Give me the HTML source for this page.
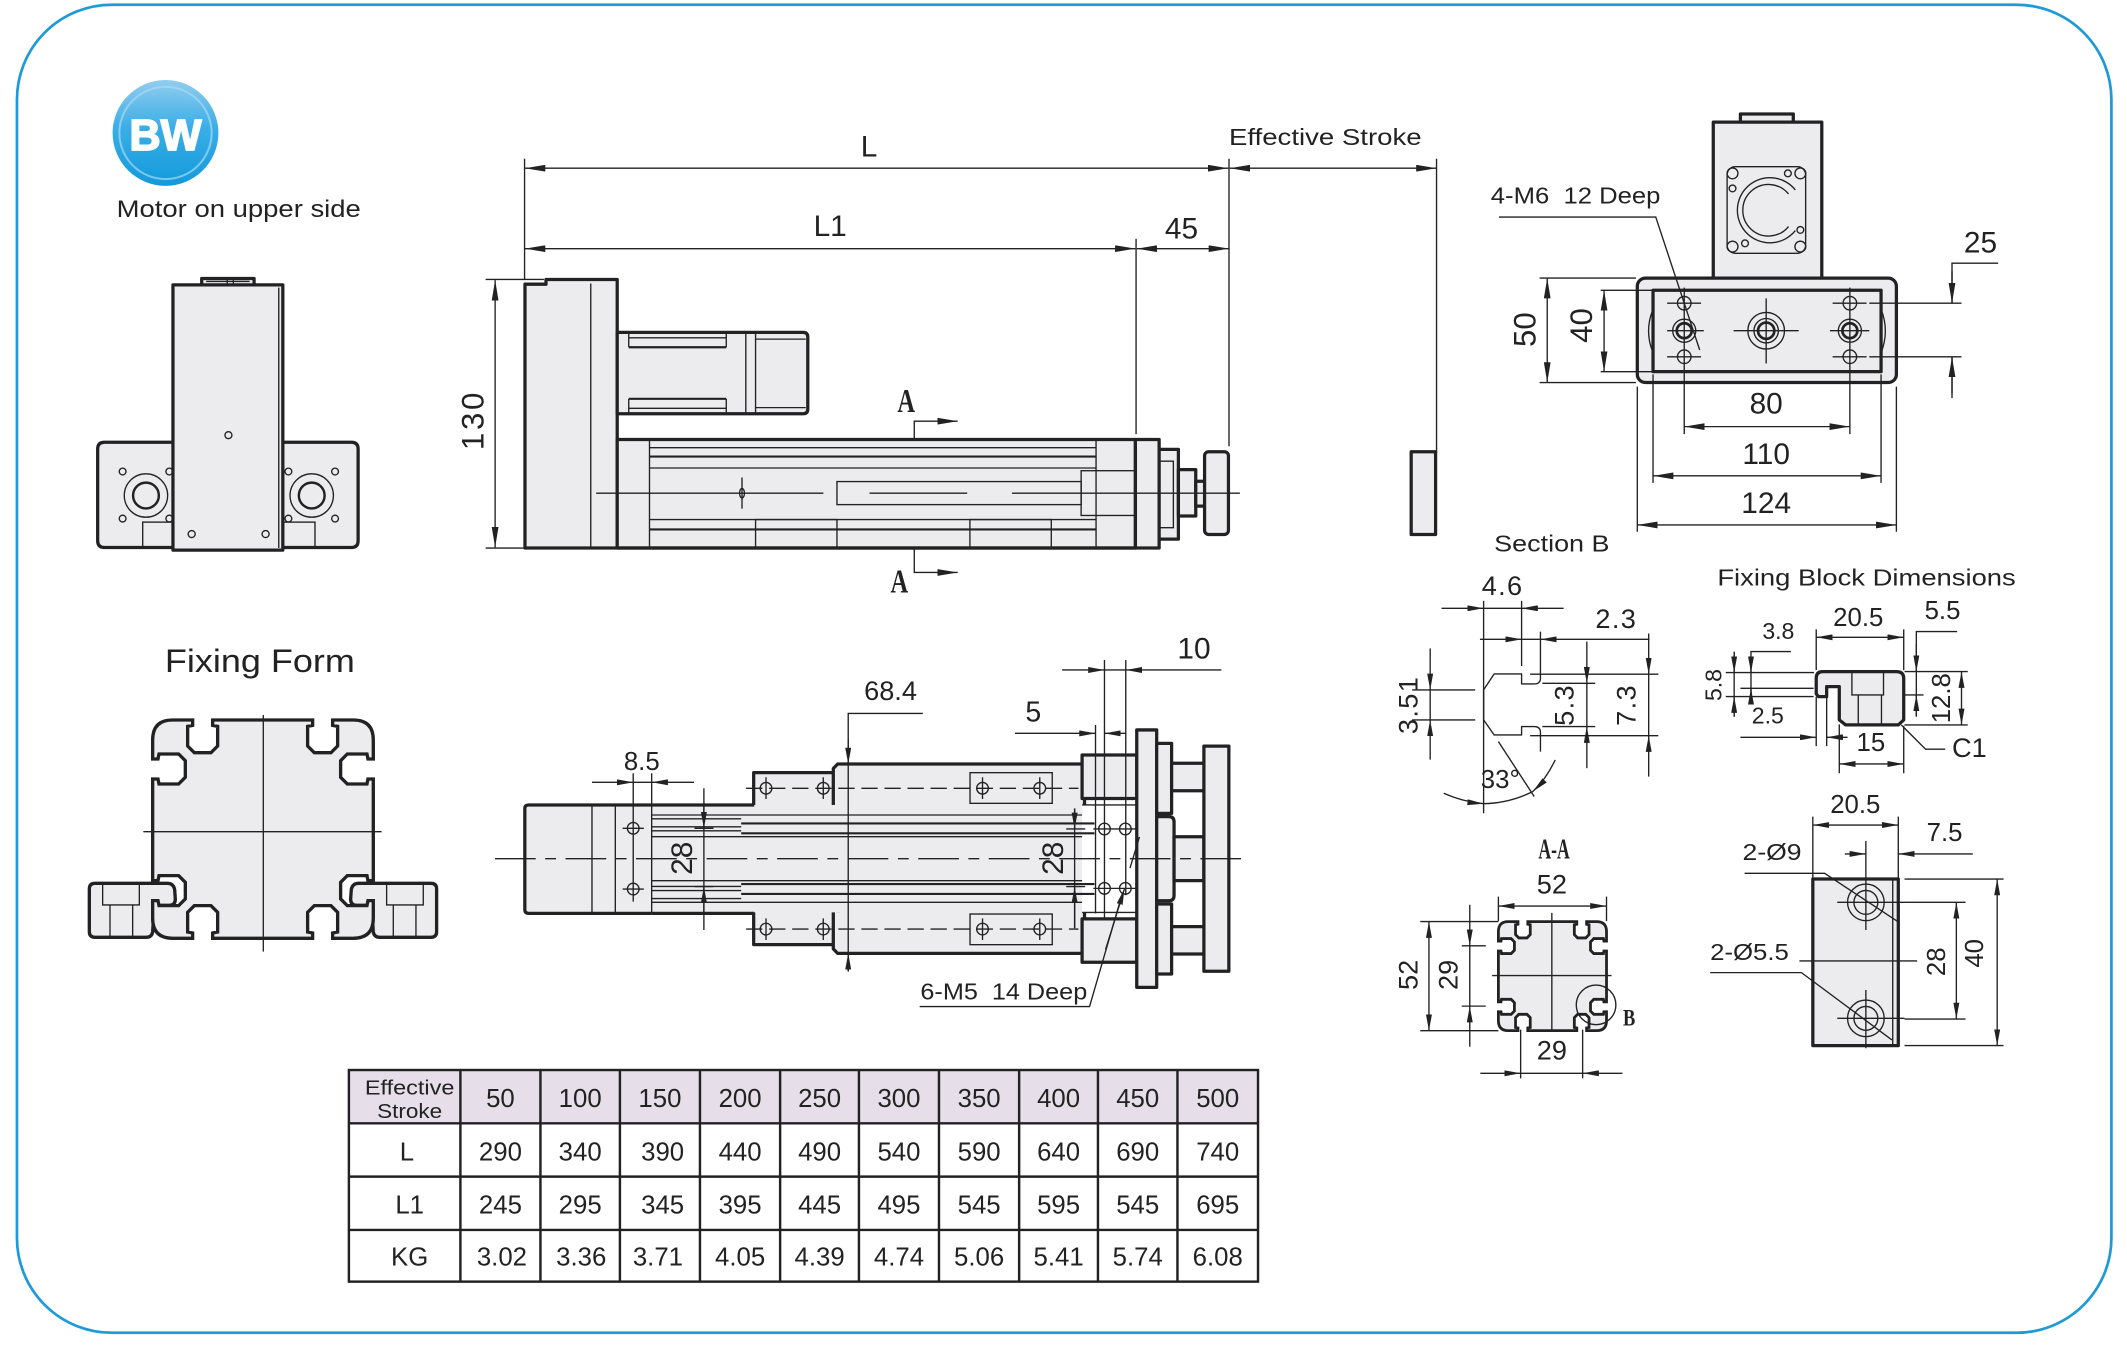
<!DOCTYPE html>
<html><head><meta charset="utf-8"><title>BW Actuator Drawing</title>
<style>
html,body{margin:0;padding:0;background:#fff;width:2127px;height:1350px;overflow:hidden}
svg{display:block}
text{font-family:"Liberation Sans",Arial,sans-serif;fill:#222}
.sf{font-family:"Liberation Serif",serif;font-weight:bold}
.o{stroke:#222;stroke-width:2.4;fill:#ececef;stroke-linejoin:round}
.n{stroke:#222;stroke-width:1;fill:none}
.m{stroke:#222;stroke-width:1.6;fill:none}
.a{marker-end:url(#ar)}
.b{marker-start:url(#ar);marker-end:url(#ar)}
.as{marker-end:url(#sm)}
.bs{marker-start:url(#sm);marker-end:url(#sm)}
</style></head><body>
<svg width="2127" height="1350" viewBox="0 0 1568 995.2" preserveAspectRatio="none" xmlns="http://www.w3.org/2000/svg">
<defs>
<marker id="ar" viewBox="0 0 15 5" refX="15" refY="2.5" markerWidth="15" markerHeight="5" markerUnits="userSpaceOnUse" orient="auto-start-reverse"><path d="M0,0L15,2.5L0,5z" fill="#222"/></marker>
<marker id="sm" viewBox="0 0 12 4.4" refX="12" refY="2.2" markerWidth="12" markerHeight="4.4" markerUnits="userSpaceOnUse" orient="auto-start-reverse"><path d="M0,0L12,2.2L0,4.4z" fill="#222"/></marker>
<linearGradient id="bwg" x1="0" y1="0" x2="0" y2="1"><stop offset="0" stop-color="#92cdee"/><stop offset="0.45" stop-color="#3aaee6"/><stop offset="1" stop-color="#129adc"/></linearGradient>
<path id="prof" d="M338,300L398,300L398,316L383,319L383,378L403,398L453,398L473,378L473,319L458,316L458,300L758,300L758,316L743,319L743,378L763,398L813,398L833,378L833,319L818,316L818,300L880,300Q940,300 940,360L940,417L924,417L921,402L862,402L842,422L842,472L862,492L921,492L924,477L940,477L940,782L924,782L921,767L862,767L842,787L842,837L862,857L921,857L924,842L940,842L940,895Q940,955 880,955L818,955L818,939L833,936L833,877L813,857L763,857L743,877L743,936L758,939L758,955L458,955L458,939L473,936L473,877L453,857L403,857L383,877L383,936L398,939L398,955L338,955Q278,955 278,895L278,842L294,842L297,857L356,857L376,837L376,787L356,767L297,767L294,782L278,782L278,477L294,477L297,492L356,492L376,472L376,422L356,402L297,402L294,417L278,417L278,360Q278,300 338,300Z"/>
<g id="fblk">
<path d="M105,790H322Q340,790 344,808L346,838Q346,856 328,856H300Q285,858 282,872L278,935Q276,952 258,952H105Q88,952 88,935V807Q88,790 105,790Z" fill="#ececef" stroke="#222" stroke-width="10"/>
<path d="M128,793V855H238V793M150,855V950M218,855V950" fill="none" stroke="#222" stroke-width="4"/>
</g>
</defs>

<!-- border -->
<rect x="12.5" y="3.5" width="1544" height="979" rx="70" fill="none" stroke="#1d9ad7" stroke-width="2"/>

<!-- logo -->
<circle cx="122" cy="98" r="39" fill="url(#bwg)"/>
<circle cx="122" cy="98" r="34" fill="none" stroke="#a6daf4" stroke-width="1.5" opacity="0.7"/>
<text x="122" y="110.5" text-anchor="middle" font-size="32" font-weight="bold" style="fill:#fff;stroke:#fff;stroke-width:1.2">BW</text>
<text x="86" y="160" font-size="18" textLength="180" lengthAdjust="spacingAndGlyphs">Motor on upper side</text>

<!-- left front view -->
<path class="o" d="M72,331Q72,326 77,326H129V403.6H77Q72,403.6 72,398.6Z"/>
<path class="o" d="M206.4,326H259Q264,326 264,331V398.6Q264,403.6 259,403.6H206.4Z"/>
<g class="n">
<circle cx="107.6" cy="365.3" r="16"/>
<circle cx="107.6" cy="365.3" r="9.5" stroke-width="1.8"/>
<circle cx="90.4" cy="347.6" r="2.5"/><circle cx="124.8" cy="347.6" r="2.5"/><circle cx="90.4" cy="382.3" r="2.5"/><circle cx="124.8" cy="382.3" r="2.5"/>
<rect x="105.2" y="384.9" width="23.8" height="18.7"/>
<circle cx="229.8" cy="365.3" r="16"/>
<circle cx="229.8" cy="365.3" r="9.5" stroke-width="1.8"/>
<circle cx="212.6" cy="347.6" r="2.5"/><circle cx="247" cy="347.6" r="2.5"/><circle cx="212.6" cy="382.3" r="2.5"/><circle cx="247" cy="382.3" r="2.5"/>
<rect x="208.9" y="384.9" width="23.3" height="18.7"/>
</g>
<rect class="o" x="148.7" y="205.3" width="38.6" height="5" stroke-width="1.6"/>
<path class="n" d="M152,207.5H184M167.5,205.3V210M172,205.3V210"/>
<rect class="o" x="127.5" y="210" width="81" height="195.5" stroke-width="2.6"/>
<line class="n" x1="205.5" y1="212" x2="205.5" y2="404" stroke="#999"/>
<circle class="n" cx="168.4" cy="320.8" r="2.6" stroke-width="1.6"/>
<circle class="n" cx="141.3" cy="393.7" r="2.6" stroke-width="1.6"/>
<circle class="n" cx="195.8" cy="393.7" r="2.6" stroke-width="1.6"/>

<!-- main side view dims -->
<line class="n b" x1="387" y1="124" x2="905.5" y2="124"/>
<line class="n b" x1="906.5" y1="124" x2="1059" y2="124"/>
<line class="n" x1="386.7" y1="117" x2="386.7" y2="206"/>
<line class="n" x1="906" y1="117" x2="906" y2="329"/>
<line class="n" x1="1059" y1="117" x2="1059" y2="334"/>
<text x="640.7" y="115.5" font-size="22" text-anchor="middle">L</text>
<text x="906" y="107" font-size="17" textLength="142" lengthAdjust="spacingAndGlyphs">Effective Stroke</text>
<line class="n b" x1="387" y1="183.3" x2="837" y2="183.3"/>
<line class="n b" x1="838" y1="183.3" x2="906" y2="183.3"/>
<line class="n" x1="837.5" y1="176" x2="837.5" y2="320"/>
<text x="612" y="174" font-size="22" text-anchor="middle">L1</text>
<text x="871" y="176" font-size="22" text-anchor="middle">45</text>
<line class="n b" x1="365" y1="206.5" x2="365" y2="403.5"/>
<line class="n" x1="358" y1="206" x2="401" y2="206"/>
<line class="n" x1="358" y1="404" x2="387" y2="404"/>
<text transform="translate(356.5,309.6) rotate(-90)" font-size="23" text-anchor="middle" letter-spacing="2">130</text>

<!-- main side view body -->
<path class="o" d="M387,209.5H402.5V206H455V404H387Z"/>
<line class="n" x1="435.5" y1="209" x2="435.5" y2="404"/>
<path class="o" d="M455,245H592Q595.5,245 595.5,248.5V301.5Q595.5,305 592,305H455Z"/>
<path class="n" d="M463.5,245V256M535.4,245V256M463.5,294V305M535.4,294V305M549.8,245V305M557,245V305M557,250H594M557,300.5H594M463.5,249H535.4M463.5,301H535.4"/>
<path class="m" stroke-width="2" d="M463.5,256H535.4M463.5,294H535.4"/>
<path class="o" d="M455,324H837V404H455Z"/>
<path class="n" d="M478.8,324V404M808,324V404M478.8,345H808M478.8,383H808M478.8,330H808"/>
<path class="m" d="M478.8,336.6H808M478.8,390.3H808"/>
<rect class="n" x="617" y="355" width="180" height="17"/>
<rect class="n" x="797" y="347" width="40" height="33" fill="#ececef"/>
<rect class="n" x="557" y="383" width="60" height="21" fill="#ececef"/>
<rect class="n" x="715" y="383" width="60" height="21" fill="#ececef"/>
<line x1="455" y1="404" x2="837" y2="404" stroke="#222" stroke-width="2.4"/>
<rect class="o" x="837" y="324" width="17.5" height="80"/>
<rect class="o" x="854.5" y="331.3" width="14.2" height="66.1" stroke-width="1.8"/>
<path class="n" d="M854.5,340H865V389H854.5"/>
<rect class="o" x="868.7" y="346.2" width="12.8" height="34.2" stroke-width="1.5"/>
<rect class="o" x="881.5" y="354.8" width="8" height="18.3" stroke-width="1.5"/>
<rect class="o" x="888" y="333" width="17.6" height="61" rx="3"/>
<rect class="o" x="1040.3" y="333" width="18" height="61"/>
<path class="n" d="M439.5,363.6H607M641,363.6H713M746,363.6H914"/>
<line class="n" x1="547" y1="352" x2="547" y2="375"/>
<ellipse class="n" cx="547" cy="363.6" rx="1.8" ry="3.5"/>
<path class="n a" d="M674,324V310.5H706"/>
<path class="n a" d="M674,404V422H706"/>
<text class="sf" transform="translate(668,303.6) scale(0.72,1)" font-size="25" text-anchor="middle">A</text>
<text class="sf" transform="translate(663,436.8) scale(0.72,1)" font-size="25" text-anchor="middle">A</text>

<!-- right top view -->
<rect class="o" x="1283" y="84" width="39" height="7" stroke-width="1.8"/>
<rect class="o" x="1263" y="90" width="80" height="116"/>
<rect class="n" x="1273.2" y="122.9" width="57.9" height="63.8" rx="6" stroke-width="1.5"/>
<path class="n" stroke-width="2.4" d="M1323.5,140A24,24 0 1 0 1323.5,170"/>
<path class="n" stroke-width="1.2" d="M1318.5,143A19,19 0 1 0 1318.5,167"/>
<g class="n" stroke-width="1.4">
<circle cx="1277.2" cy="127.8" r="4"/><circle cx="1327.2" cy="127.8" r="4"/><circle cx="1277.2" cy="181.8" r="4"/><circle cx="1327.2" cy="181.8" r="4"/>
<circle cx="1277.2" cy="138.9" r="2.5"/><circle cx="1318" cy="127.8" r="2.5"/><circle cx="1327.2" cy="169.5" r="2.5"/><circle cx="1286.4" cy="179.4" r="2.5"/>
</g>
<rect class="o" x="1207" y="205" width="191" height="77" rx="6"/>
<rect class="o" x="1218.6" y="214" width="168.1" height="60" stroke-width="2"/>
<path class="n" d="M1218.6,228Q1212,244 1218.6,260M1386.7,228Q1393,244 1386.7,260"/>
<g class="n" stroke-width="1.3">
<circle cx="1241.6" cy="223.5" r="5"/><circle cx="1241.6" cy="263" r="5"/><circle cx="1363.7" cy="223.5" r="5"/><circle cx="1363.7" cy="263" r="5"/>
<circle cx="1241.6" cy="243.8" r="8.5"/><circle cx="1363.7" cy="243.8" r="8.5"/>
<circle cx="1241.6" cy="243.8" r="5.5" stroke-width="2"/><circle cx="1363.7" cy="243.8" r="5.5" stroke-width="2"/>
<circle cx="1302" cy="243.8" r="13.5"/><circle cx="1302" cy="243.8" r="9"/><circle cx="1302" cy="243.8" r="6" stroke-width="2"/>
</g>
<path class="n" d="M1241.6,212V320M1363.7,212V320M1229,223.5H1254M1229,243.8H1256M1229,263H1254M1351,223.5H1376M1349,243.8H1378M1351,263H1376M1302,220V268M1278,243.8H1326M1378,223.5H1446M1378,263H1446"/>
<!-- right view dims -->
<line class="n b" x1="1140.6" y1="205" x2="1140.6" y2="282"/>
<path class="n" d="M1135,205H1206M1135,282H1206M1180,214H1218M1180,274H1218"/>
<line class="n b" x1="1182.5" y1="214" x2="1182.5" y2="274"/>
<text transform="translate(1132,243) rotate(-90)" font-size="23" text-anchor="middle">50</text>
<text transform="translate(1173.5,240) rotate(-90)" font-size="23" text-anchor="middle">40</text>
<line class="n b" x1="1241.6" y1="314.5" x2="1363.7" y2="314.5"/>
<text x="1302" y="305" font-size="22" text-anchor="middle">80</text>
<path class="n" d="M1218.6,276V356M1386.7,276V356M1207,285V392M1398,285V392"/>
<line class="n b" x1="1218.6" y1="350.8" x2="1386.7" y2="350.8"/>
<text x="1302" y="342" font-size="22" text-anchor="middle">110</text>
<line class="n b" x1="1207" y1="387" x2="1398" y2="387"/>
<text x="1302" y="378" font-size="22" text-anchor="middle">124</text>
<path class="n" d="M1473,194H1439V223.5M1439,263V293.5"/>
<line class="n a" x1="1439" y1="200" x2="1439" y2="223.5"/>
<line class="n a" x1="1439" y1="290" x2="1439" y2="263"/>
<text x="1460" y="186" font-size="22" text-anchor="middle">25</text>
<text x="1099" y="150" font-size="17" textLength="125" lengthAdjust="spacingAndGlyphs" style="white-space:pre">4-M6  12 Deep</text>
<path class="n" d="M1105,160H1220.6L1253,258"/>

<!-- Section B -->
<text x="1101.5" y="406.6" font-size="17" textLength="85" lengthAdjust="spacingAndGlyphs">Section B</text>
<path class="n" stroke-width="2.4" stroke-linejoin="round" d="M1135.6,484V500Q1135.6,504.2 1131,504.2H1121.7V496.8H1101.5L1093.7,508.6V530.7L1101.5,541.8H1121.7V535.6H1131Q1135.6,535.6 1135.6,540V554.1"/>
<line class="n as" x1="1062.7" y1="448.4" x2="1093.7" y2="448.4"/>
<line class="n as" x1="1152.7" y1="448.4" x2="1121.7" y2="448.4"/>
<path class="n" d="M1093.7,448.4H1121.7M1093.7,443V599.5M1121.7,443V491"/>
<text x="1107.7" y="438.5" font-size="20" text-anchor="middle" letter-spacing="1">4.6</text>
<line class="n as" x1="1091" y1="471.3" x2="1121.7" y2="471.3"/>
<line class="n as" x1="1216" y1="471.3" x2="1135.6" y2="471.3"/>
<path class="n" d="M1121.7,471.3H1135.6M1135.6,465.6V484"/>
<text x="1191.5" y="463" font-size="20" text-anchor="middle" letter-spacing="1">2.3</text>
<line class="n as" x1="1054.3" y1="478" x2="1054.3" y2="508.6"/>
<line class="n as" x1="1054.3" y1="560" x2="1054.3" y2="530.7"/>
<path class="n" d="M1054.3,508.6V530.7M1041,508.6H1087.5M1041,530.7H1087.5"/>
<text transform="translate(1045,519.7) rotate(-90)" font-size="20" text-anchor="middle" letter-spacing="1">3.51</text>
<line class="n as" x1="1169.8" y1="473" x2="1169.8" y2="503.7"/>
<line class="n as" x1="1169.8" y1="566.3" x2="1169.8" y2="535.6"/>
<path class="n" d="M1169.8,503.7V535.6M1137,503.7H1176M1137,535.6H1176"/>
<text transform="translate(1160,519.7) rotate(-90)" font-size="20" text-anchor="middle" letter-spacing="1">5.3</text>
<line class="n as" x1="1215.4" y1="467" x2="1215.4" y2="497"/>
<line class="n as" x1="1215.4" y1="572.5" x2="1215.4" y2="542.3"/>
<path class="n" d="M1215.4,497V542.3M1128,497H1222.5M1128,542.3H1222.5"/>
<text transform="translate(1205.5,519.7) rotate(-90)" font-size="20" text-anchor="middle" letter-spacing="1">7.3</text>
<path class="n as" d="M1064.3,584.8Q1078,591 1093.7,592.5"/>
<path class="n as" d="M1146.5,560.2Q1140,574 1130,583.5"/>
<path class="n" d="M1093.7,592.5Q1113,592 1130,583.5M1104.6,546.7L1131,587.2"/>
<text x="1106" y="581" font-size="19" text-anchor="middle">33°</text>

<!-- Fixing block dimensions (side) -->
<text x="1266" y="431.5" font-size="17" textLength="220" lengthAdjust="spacingAndGlyphs">Fixing Block Dimensions</text>
<path class="o" d="M1343.5,495.1H1398Q1403.4,495.1 1403.4,500V530.7L1399.4,534.4H1360.6L1355.9,530.7V506.2H1346.6V513.5H1340.5L1338.9,511.5V500Q1338.9,495.1 1343.5,495.1Z"/>
<path class="n" d="M1365.2,495.1V512.3H1388.5V495.1M1369.9,512.3V534.4M1387,512.3V534.4"/>
<line class="n bs" x1="1338.9" y1="469.8" x2="1403.4" y2="469.8"/>
<path class="n" d="M1338.9,464V494M1403.4,464V494"/>
<text x="1369.9" y="461.5" font-size="19" text-anchor="middle">20.5</text>
<path class="n" d="M1442.8,465.6H1412.7V528.3M1404,495.1H1450.6M1404,512.3H1418M1404,534.4H1450.6"/>
<line class="n as" x1="1412.7" y1="475" x2="1412.7" y2="495.1"/>
<line class="n as" x1="1412.7" y1="528.3" x2="1412.7" y2="512.3"/>
<text x="1432" y="456.5" font-size="19" text-anchor="middle">5.5</text>
<line class="n bs" x1="1446" y1="495.1" x2="1446" y2="534.4"/>
<text transform="translate(1437.5,514.7) rotate(-90)" font-size="19" text-anchor="middle">12.8</text>
<path class="n" d="M1278.4,480.4V528.3M1272.2,495.8H1337.3M1283,507.4H1337M1272.2,513.5H1337M1320.2,480.3H1290.8V516"/>
<line class="n as" x1="1278.4" y1="481" x2="1278.4" y2="495.8"/>
<line class="n as" x1="1278.4" y1="528.3" x2="1278.4" y2="513.5"/>
<line class="n as" x1="1290.8" y1="484" x2="1290.8" y2="495.8"/>
<line class="n as" x1="1290.8" y1="519" x2="1290.8" y2="507.4"/>
<text x="1311" y="471" font-size="17" text-anchor="middle">3.8</text>
<text transform="translate(1269,505) rotate(-90)" font-size="17" text-anchor="middle">5.8</text>
<line class="n as" x1="1283" y1="543.5" x2="1338.9" y2="543.5"/>
<line class="n as" x1="1362" y1="543.5" x2="1346.6" y2="543.5"/>
<path class="n" d="M1338.9,513.5V550M1346.6,513.5V550"/>
<text x="1303.2" y="533.5" font-size="17" text-anchor="middle">2.5</text>
<line class="n bs" x1="1355.9" y1="563.2" x2="1403.4" y2="563.2"/>
<path class="n" d="M1355.9,534V570M1403.4,535V570"/>
<text x="1379.2" y="553.5" font-size="19" text-anchor="middle">15</text>
<path class="n" d="M1401.6,534.4L1419.5,552.3H1434"/>
<text x="1439" y="558" font-size="20">C1</text>

<!-- A-A -->
<text class="sf" transform="translate(1145.6,632.7) scale(0.62,1)" font-size="21" text-anchor="middle">A-A</text>
<use href="#prof" transform="translate(1071.13,642.59) scale(0.1204,0.1227)" fill="#ececef" stroke="#222" stroke-width="17"/>
<path class="n" d="M1144,673V760M1100,719.2H1188"/>
<line class="n bs" x1="1104.6" y1="667.9" x2="1184.3" y2="667.9"/>
<path class="n" d="M1104.6,661V679M1184.3,661V679"/>
<text x="1144" y="658.5" font-size="20" text-anchor="middle">52</text>
<line class="n bs" x1="1053.4" y1="679.4" x2="1053.4" y2="759.8"/>
<path class="n" d="M1047,679.4H1104.6M1047,759.8H1104.6"/>
<text transform="translate(1045,718.7) rotate(-90)" font-size="20" text-anchor="middle">52</text>
<line class="n as" x1="1083.5" y1="667" x2="1083.5" y2="697.2"/>
<line class="n as" x1="1083.5" y1="771.6" x2="1083.5" y2="741.7"/>
<path class="n" d="M1083.5,697.2V741.7M1077.6,697.2H1095.3M1077.6,741.7H1095.3"/>
<text transform="translate(1074.5,718.7) rotate(-90)" font-size="20" text-anchor="middle">29</text>
<line class="n as" x1="1091.3" y1="791.2" x2="1121" y2="791.2"/>
<line class="n as" x1="1196.1" y1="791.2" x2="1166.7" y2="791.2"/>
<path class="n" d="M1121,791.2H1166.7M1121,759V795M1166.7,759V795"/>
<text x="1144" y="781" font-size="20" text-anchor="middle">29</text>
<circle class="n" cx="1176.6" cy="740.8" r="14.6"/>
<text class="sf" transform="translate(1201,756) scale(0.8,1)" font-size="17" text-anchor="middle">B</text>

<!-- Fixing block (bottom) -->
<rect class="o" x="1336.4" y="648" width="63" height="122.8"/>
<line class="n" x1="1395.3" y1="648" x2="1395.3" y2="770.8"/>
<g class="n" stroke-width="1.3">
<circle cx="1375.5" cy="665.2" r="13.5"/><circle cx="1375.5" cy="665.2" r="8.8"/>
<circle cx="1375.5" cy="750.7" r="13.5"/><circle cx="1375.5" cy="750.7" r="8.8"/>
</g>
<path class="n" d="M1354.4,665.2H1404M1375.5,620V685.6M1354.4,750.7H1404M1375.5,729.8V772.8M1326.5,708.4H1413.3"/>
<path class="n" d="M1286.1,643.8H1345.1L1400.3,680.2M1260.7,717H1328L1394.7,766.6"/>
<text x="1284.6" y="634" font-size="17" textLength="43.5" lengthAdjust="spacingAndGlyphs">2-Ø9</text>
<text x="1260.7" y="707.7" font-size="17" textLength="58" lengthAdjust="spacingAndGlyphs">2-Ø5.5</text>
<line class="n bs" x1="1336.4" y1="608.2" x2="1399.4" y2="608.2"/>
<path class="n" d="M1336.4,602V647M1399.4,602V647"/>
<text x="1367.7" y="599.5" font-size="19" text-anchor="middle">20.5</text>
<line class="n as" x1="1360" y1="629.5" x2="1375.5" y2="629.5"/>
<line class="n as" x1="1454.3" y1="629.5" x2="1399.4" y2="629.5"/>
<text x="1433.5" y="620" font-size="19" text-anchor="middle">7.5</text>
<line class="n bs" x1="1442.2" y1="665.2" x2="1442.2" y2="751.2"/>
<path class="n" d="M1404,665.2H1449M1404,751.2H1449M1404,648H1477M1404,770.8H1477"/>
<text transform="translate(1434,709) rotate(-90)" font-size="19" text-anchor="middle">28</text>
<line class="n bs" x1="1472.3" y1="648" x2="1472.3" y2="770.8"/>
<text transform="translate(1462,702.8) rotate(-90)" font-size="19" text-anchor="middle">40</text>

<!-- Fixing Form -->
<text x="121.6" y="495.5" font-size="24" textLength="140" lengthAdjust="spacingAndGlyphs">Fixing Form</text>
<g transform="translate(44.23,457.06) scale(0.2457)">
<use href="#fblk"/>
<use href="#fblk" transform="translate(1218,0) scale(-1,1)"/>
<use href="#prof" fill="#ececef" stroke="#222" stroke-width="10"/>
<path d="M610,285V995M250,635H965" stroke="#222" stroke-width="4" fill="none"/>
</g>

<!-- bottom center (top) view -->
<rect x="480.4" y="593.4" width="317.3" height="79.9" fill="#ececef"/>
<path class="o" d="M480.4,593.4H389.5Q386.9,593.4 386.9,596V670.7Q386.9,673.3 389.5,673.3H480.4"/>
<path class="n" d="M436.4,593.4V673.3M453.6,593.4V673.3M480.4,593.4V673.3"/>
<path stroke="#222" stroke-width="2.4" fill="none" d="M480.4,593.4H556M480.4,673.3H556"/>
<g id="uh">
<path class="n" d="M480.4,600.8H797.7M480.4,616.8H797.7M480.4,603.6H546.4M480.4,609.5H546.4M480.4,612.5H546.4"/>
<path class="m" d="M546.4,607H806.8M546.4,614.3H806.8"/>
<path class="o" d="M555.6,593.4V569.6H618V593.4"/>
<path class="o" d="M614.3,593.4V566.5L617.5,563.2H799.5V593.4"/>
<rect class="n" x="715.1" y="569.6" width="60.6" height="22.6"/>
<path class="n" stroke-dasharray="12 5" d="M550,581.1H795"/>
<rect class="o" x="797.7" y="556.6" width="40.3" height="32"/>
<path class="n" d="M797.7,593.4H838"/>
<path class="o" d="M838,633V538.1H852.7V633"/>
<rect class="o" x="852.7" y="548" width="11" height="51.6" stroke-width="1.6"/>
<rect class="o" x="863.7" y="562.7" width="24" height="20.2" stroke-width="1.8"/>
<path class="o" stroke-width="1.8" d="M852.7,633V602H862Q865.5,602 865.5,606V633"/>
<path class="o" stroke-width="1.5" d="M865.5,633V616.8H887.5V633"/>
<path class="o" d="M887.5,633V550H905.9V633"/>
<g class="n" stroke-width="1.2">
<circle cx="466.8" cy="610.6" r="4.3"/><circle cx="564.7" cy="581.1" r="4.3"/><circle cx="606.9" cy="581.1" r="4.3"/>
<circle cx="724.3" cy="581.1" r="4.3"/><circle cx="766.5" cy="581.1" r="4.3"/>
<circle cx="814.2" cy="611.1" r="4.3"/><circle cx="829.6" cy="611.1" r="4.3"/>
<path d="M459,610.6H474.6M564.7,573V589M606.9,573V589M724.3,573V589M766.5,573V589M806,611.1H822M822,611.1H838"/>
</g>
</g>
<use href="#uh" transform="translate(0,1266) scale(1,-1)"/>
<path class="n" stroke-dasharray="30 7 8 7" d="M364.9,633H918.7"/>
<path class="n" d="M807.6,534.5V673.3M814.2,486.5V678M829.9,486.5V660M466.8,570V664.7M480.4,570V593"/>
<!-- bottom view dims -->
<line class="n as" x1="436.4" y1="576.7" x2="466.8" y2="576.7"/>
<line class="n as" x1="511.6" y1="576.7" x2="480.4" y2="576.7"/>
<path class="n" d="M466.8,576.7H480.4"/>
<text x="473.1" y="567.5" font-size="19" text-anchor="middle">8.5</text>
<path class="n" d="M518.9,581.1V685.6M512,610.6H526M512,653.6H526"/>
<line class="n as" x1="518.9" y1="592" x2="518.9" y2="610.6"/>
<line class="n as" x1="518.9" y1="672" x2="518.9" y2="653.6"/>
<text transform="translate(510,632.7) rotate(-90)" font-size="22" text-anchor="middle">28</text>
<path class="n" d="M792.2,595.9V684.3M786,611.1H800M786,653.6H800"/>
<line class="n as" x1="792.2" y1="596" x2="792.2" y2="611.1"/>
<line class="n as" x1="792.2" y1="684" x2="792.2" y2="653.6"/>
<text transform="translate(783.5,632.7) rotate(-90)" font-size="22" text-anchor="middle">28</text>
<path class="n" d="M680.3,525.9H625.3V716.3"/>
<line class="n as" x1="625.3" y1="545" x2="625.3" y2="563.2"/>
<line class="n as" x1="625.3" y1="716" x2="625.3" y2="702.8"/>
<text x="656.5" y="516" font-size="20" text-anchor="middle">68.4</text>
<line class="n as" x1="748.2" y1="540.6" x2="807.6" y2="540.6"/>
<line class="n as" x1="829.9" y1="540.6" x2="814.2" y2="540.6"/>
<text x="761.7" y="532" font-size="21" text-anchor="middle">5</text>
<line class="n as" x1="783" y1="493.9" x2="814.2" y2="493.9"/>
<line class="n as" x1="900.4" y1="493.9" x2="829.9" y2="493.9"/>
<path class="n" d="M814.2,493.9H829.9"/>
<text x="880.2" y="485.5" font-size="22" text-anchor="middle">10</text>
<text x="678.5" y="737" font-size="17" textLength="123" lengthAdjust="spacingAndGlyphs" style="white-space:pre">6-M5  14 Deep</text>
<path class="n" d="M678,742H803.2L827,660"/>
<line class="n as" x1="815" y1="700" x2="829" y2="655"/>
<line class="n" x1="833" y1="640" x2="840" y2="617"/>

<!-- table -->
<rect x="257.2" y="788.8" width="670.2" height="39.3" fill="#e6dee8"/>
<g stroke="#222" stroke-width="1.8" fill="none">
<rect x="257.2" y="788.8" width="670.2" height="156"/>
<path d="M257.2,828.1H927.4M257.2,867.4H927.4M257.2,906.7H927.4M339.4,788.8V944.8M398.4,788.8V944.8M457,788.8V944.8M516,788.8V944.8M575.1,788.8V944.8M633.2,788.8V944.8M692.2,788.8V944.8M751.3,788.8V944.8M809.4,788.8V944.8M868,788.8V944.8"/>
</g>
<g font-size="19" text-anchor="middle">
<text x="302" y="807" font-size="15" textLength="66" lengthAdjust="spacingAndGlyphs">Effective</text>
<text x="302" y="824" font-size="15" textLength="48" lengthAdjust="spacingAndGlyphs">Stroke</text>
<text x="368.9" y="816">50</text><text x="427.7" y="816">100</text><text x="486.5" y="816">150</text><text x="545.6" y="816">200</text><text x="604.2" y="816">250</text><text x="662.7" y="816">300</text><text x="721.8" y="816">350</text><text x="780.4" y="816">400</text><text x="838.7" y="816">450</text><text x="897.7" y="816">500</text>
<text x="300" y="855.5">L</text>
<text x="368.9" y="855.5">290</text><text x="427.7" y="855.5">340</text><text x="488.5" y="855.5">390</text><text x="545.6" y="855.5">440</text><text x="604.2" y="855.5">490</text><text x="662.7" y="855.5">540</text><text x="721.8" y="855.5">590</text><text x="780.4" y="855.5">640</text><text x="838.7" y="855.5">690</text><text x="897.7" y="855.5">740</text>
<text x="302" y="894.5">L1</text>
<text x="368.9" y="894.5">245</text><text x="427.7" y="894.5">295</text><text x="488.5" y="894.5">345</text><text x="545.6" y="894.5">395</text><text x="604.2" y="894.5">445</text><text x="662.7" y="894.5">495</text><text x="721.8" y="894.5">545</text><text x="780.4" y="894.5">595</text><text x="838.7" y="894.5">545</text><text x="897.7" y="894.5">695</text>
<text x="302" y="933">KG</text>
<text x="370" y="933">3.02</text><text x="428.5" y="933">3.36</text><text x="485" y="933">3.71</text><text x="545.6" y="933">4.05</text><text x="604.2" y="933">4.39</text><text x="662.7" y="933">4.74</text><text x="721.8" y="933">5.06</text><text x="780.4" y="933">5.41</text><text x="838.7" y="933">5.74</text><text x="897.7" y="933">6.08</text>
</g>
</svg>
</body></html>
